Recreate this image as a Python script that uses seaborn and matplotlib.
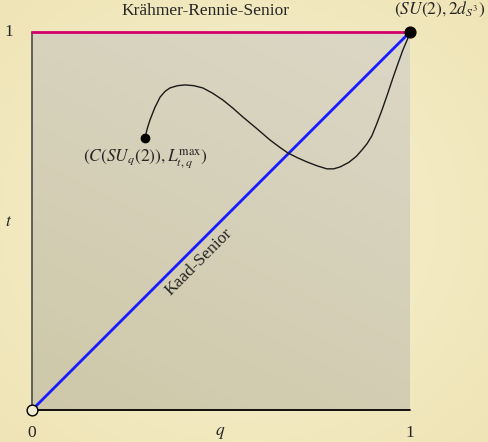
import numpy as np
import pandas as pd
import matplotlib
matplotlib.use("Agg")
import matplotlib.pyplot as plt
import seaborn as sns

# Values (unit square, q across, t up)
diag_q = [0.0, 1.0]
diag_t = [0.0, 1.0]
top_q = [0.0, 1.0]
top_t = [1.0, 1.0]

curve_q = [0.299, 0.305, 0.312, 0.325, 0.339, 0.352, 0.365, 0.385, 0.405, 0.428, 0.452,
           0.478, 0.505, 0.531, 0.558, 0.594, 0.630, 0.654, 0.677, 0.703, 0.728, 0.754,
           0.780, 0.798, 0.815, 0.838, 0.858, 0.873, 0.886, 0.899, 0.912, 0.926, 0.941,
           0.955, 0.968, 0.981, 1.0]
curve_t = [0.720, 0.745, 0.767, 0.800, 0.828, 0.843, 0.852, 0.858, 0.860, 0.858, 0.852,
           0.838, 0.820, 0.799, 0.775, 0.745, 0.714, 0.696, 0.680, 0.667, 0.656, 0.646,
           0.638, 0.638, 0.643, 0.655, 0.671, 0.688, 0.704, 0.725, 0.757, 0.794, 0.837,
           0.879, 0.916, 0.952, 0.997]

start_pt = (0.299, 0.720)
end_pt = (1.0, 1.0)
origin_pt = (0.0, 0.0)

x_ticks = [0, 1]
y_ticks = [1]
x_tick_labels = ["0", "1"]
y_tick_labels = ["1"]

sns.set_theme(style="white")
plt.rcParams["font.family"] = ["Liberation Serif", "DejaVu Serif"]
plt.rcParams["mathtext.fontset"] = "stix"

W, H = 489, 442
fig = plt.figure(figsize=(W / 100, H / 100), dpi=100)

# page background: soft yellow with a lighter centre
bg = fig.add_axes([0, 0, 1, 1], zorder=-2)
yy, xx = np.mgrid[-1:1:200j, -1:1:200j]
r = np.clip(np.sqrt(xx ** 2 + yy ** 2) / 1.4, 0, 1)
c_in = np.array([0.975, 0.947, 0.820])
c_out = np.array([0.935, 0.895, 0.715])
img = c_in[None, None, :] * (1 - r[..., None]) + c_out[None, None, :] * r[..., None]
bg.imshow(img, extent=[0, 1, 0, 1], aspect="auto")
bg.axis("off")

ax = fig.add_axes([32 / W, 32 / H, 378 / W, 378 / H])
ax.set_xlim(0, 1)
ax.set_ylim(0, 1)
ax.axis("off")

# square fill with a gentle gradient
gy, gx = np.mgrid[0:1:100j, 0:1:100j]
g = np.clip((gy + 0.5 * gx) / 1.5, 0, 1)
c_lo = np.array([0.810, 0.785, 0.665])
c_hi = np.array([0.860, 0.845, 0.775])
sq = c_lo[None, None, :] * (1 - g[..., None]) + c_hi[None, None, :] * g[..., None]
ax.imshow(sq, extent=[0, 1, 0, 1], origin="lower", aspect="auto", zorder=0)

# edges
ax.plot([0, 0], [0, 1], color="#4a4a4a", lw=1.2, zorder=2, clip_on=False)
ax.plot([0, 1], [0, 0], color="black", lw=1.3, zorder=2, clip_on=False)
sns.lineplot(x=top_q, y=top_t, color="#d2006c", lw=2, ax=ax, zorder=3, clip_on=False)

# Kaad-Senior diagonal
sns.lineplot(x=diag_q, y=diag_t, color="#1a1aff", lw=2, ax=ax, zorder=3, clip_on=False)

# the curve
curve = pd.DataFrame({"q": curve_q, "t": curve_t})
sns.lineplot(data=curve, x="q", y="t", sort=False, color="#1a1a1a", lw=1.0, ax=ax,
             zorder=4, clip_on=False)

# points
ax.scatter([start_pt[0]], [start_pt[1]], s=36, color="black", zorder=5, clip_on=False)
ax.scatter([end_pt[0]], [end_pt[1]], s=60, color="black", zorder=5, clip_on=False)
ax.scatter([origin_pt[0]], [origin_pt[1]], s=60, facecolor="#f1ebcf", edgecolor="black",
           linewidth=1.0, zorder=5, clip_on=False)

# labels
fs = 12.5
ax.text(0.458, 1.035, "Krähmer-Rennie-Senior", ha="center", va="bottom", fontsize=fs)
ax.text(1.08, 1.035, r"$(SU(2), 2d_{S^3})$", ha="center", va="bottom", fontsize=fs)
ax.text(0.299, 0.665, r"$(C(SU_q(2)), L^{\max}_{t,q})$", ha="center", va="center",
        fontsize=fs)
ax.text(0.44, 0.392, "Kaad-Senior", ha="center", va="center", rotation=45,
        rotation_mode="anchor", fontsize=fs)
ax.text(-0.061, 0.497, r"$t$", ha="center", va="center", fontsize=fs)
ax.text(0.497, -0.061, r"$q$", ha="center", va="center", fontsize=fs)
for xv, lab in zip(x_ticks, x_tick_labels):
    ax.text(xv, -0.061, lab, ha="center", va="center", fontsize=fs)
for yv, lab in zip(y_ticks, y_tick_labels):
    ax.text(-0.061, yv, lab, ha="center", va="center", fontsize=fs)

fig.savefig("out.png", dpi=100)
